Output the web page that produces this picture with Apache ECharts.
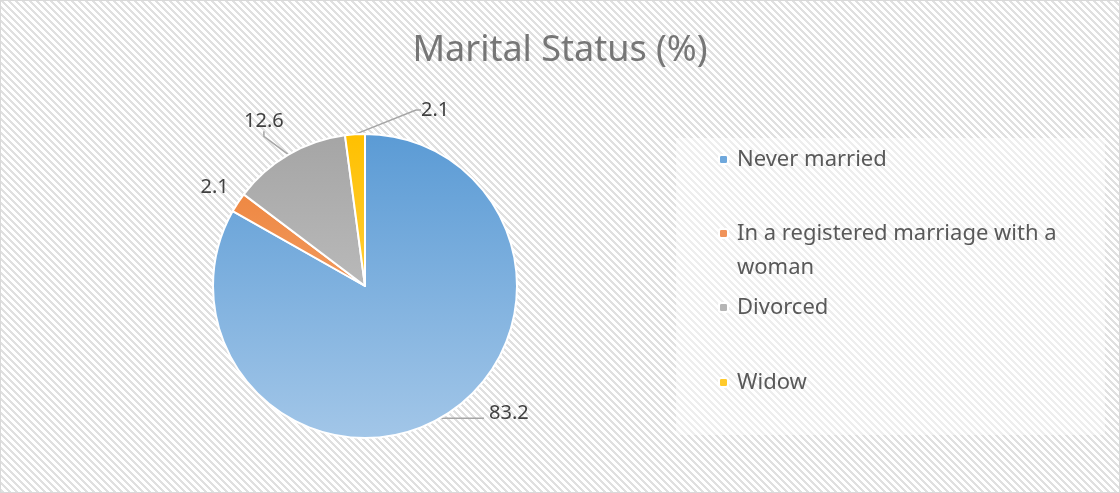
<!DOCTYPE html>
<html>
<head>
<meta charset="utf-8">
<script src="https://cdn.jsdelivr.net/npm/echarts@6/dist/echarts.min.js"></script>
<style>
html,body{margin:0;padding:0;background:#fff;}
#chart{width:1120px;height:493px;}
</style>
</head>
<body>
<div id="chart"></div>
<script>
const title = 'Marital Status (%)';
const categories = ['Never married', 'In a registered marriage with a woman', 'Divorced', 'Widow'];
const legendLabels = ['Never married', ' \nIn a registered marriage with a\nwoman', 'Divorced', 'Widow'];
const values = [83.2, 2.1, 12.6, 2.1];
const topColors = ['#5B9BD5', '#ED7D31', '#A5A5A5', '#FFC000'];
const bottomColors = ['#A2C6E8', '#F5B58A', '#CDCDCD', '#FFDC6E'];
const iconColors = ['#6FA8DC', '#F0935A', '#B5B5B5', '#FFCA2C'];

// hatch pattern
function makePattern(light) {
  const P = 7;
  const c = document.createElement('canvas');
  c.width = P; c.height = P;
  const ctx = c.getContext('2d');
  const img = ctx.createImageData(P, P);
  for (let y = 0; y < P; y++) {
    for (let x = 0; x < P; x++) {
      const k = ((x - y) % P + P) % P;
      let v = k < 3 ? (light ? 238 : 224) : 255;
      const i = (y * P + x) * 4;
      img.data[i] = v; img.data[i+1] = v; img.data[i+2] = v; img.data[i+3] = 255;
    }
  }
  ctx.putImageData(img, 0, 0);
  return c;
}

const cx = 365, cy = 286, R = 152;
const chart = echarts.init(document.getElementById('chart'), null, {renderer: 'canvas'});

const legendCenters = [159.5, 233.5, 307.5, 382.5];
const LH = 34;
const legends = categories.map((name, i) => ({
  orient: 'vertical',
  left: 718,
  top: i === 1 ? legendCenters[i] - 1.5 * LH : legendCenters[i] - LH / 2,
  padding: 0,
  itemWidth: 9,
  itemHeight: 9,
  selectedMode: false,
  itemStyle: {color: iconColors[i]},
  data: [name],
  formatter: () => legendLabels[i],
  textStyle: {
    fontFamily: 'Noto Sans',
    fontSize: 22,
    color: '#595959',
    lineHeight: LH,
    padding: [0, 0, 0, 4]
  }
}));

chart.setOption({
  animation: false,
  title: {
    text: title,
    left: 'center',
    top: 28,
    textStyle: {fontFamily: 'Noto Sans', fontWeight: 'normal', fontSize: 36, color: '#767676'}
  },
  graphic: [
    {type: 'rect', z: -10, shape: {x: 0, y: 0, width: 1120, height: 493},
     style: {fill: {image: makePattern(false), repeat: 'repeat'}, stroke: '#d9d9d9', lineWidth: 2}},
    {type: 'rect', z: -9, shape: {x: 676, y: 138, width: 429, height: 297},
     style: {fill: {image: makePattern(true), repeat: 'repeat'}}}
  ],
  legend: legends,
  series: [{
    type: 'pie',
    center: [cx, cy],
    radius: R,
    startAngle: 90,
    clockwise: true,
    avoidLabelOverlap: false,
    itemStyle: {borderColor: '#ffffff', borderWidth: 2},
    label: {
      show: true,
      position: 'outside',
      formatter: '{c}',
      fontFamily: 'Noto Sans',
      fontSize: 20,
      color: '#404040'
    },
    labelLine: {show: true, length: 10, length2: 25, lineStyle: {color: '#a6a6a6', width: 1.5}},
    labelLayout: function (p) {
      const r = p.rect;
      if (p.dataIndex === 0) return {dy: -5};
      if (p.dataIndex === 1) return {dy: -13};
      if (p.dataIndex === 2) return {x: r.x + 41, y: r.y - 13, align: 'right', verticalAlign: 'middle'};
      if (p.dataIndex === 3) return {x: r.x + r.width + 55, y: r.y - 23, align: 'left', verticalAlign: 'middle'};
      return {};
    },
    data: categories.map((name, i) => ({
      name,
      value: values[i],
      labelLine: i === 0 ? {length: 1, length2: 42} : (i === 1 ? {show: false, length: 5, length2: 0} : {length: 10, length2: 5}),
      itemStyle: {
        color: {
          type: 'linear', global: true, x: 0, y: cy - R, x2: 0, y2: cy + R,
          colorStops: [{offset: 0, color: topColors[i]}, {offset: 1, color: bottomColors[i]}]
        }
      }
    }))
  }]
});
</script>
</body>
</html>
